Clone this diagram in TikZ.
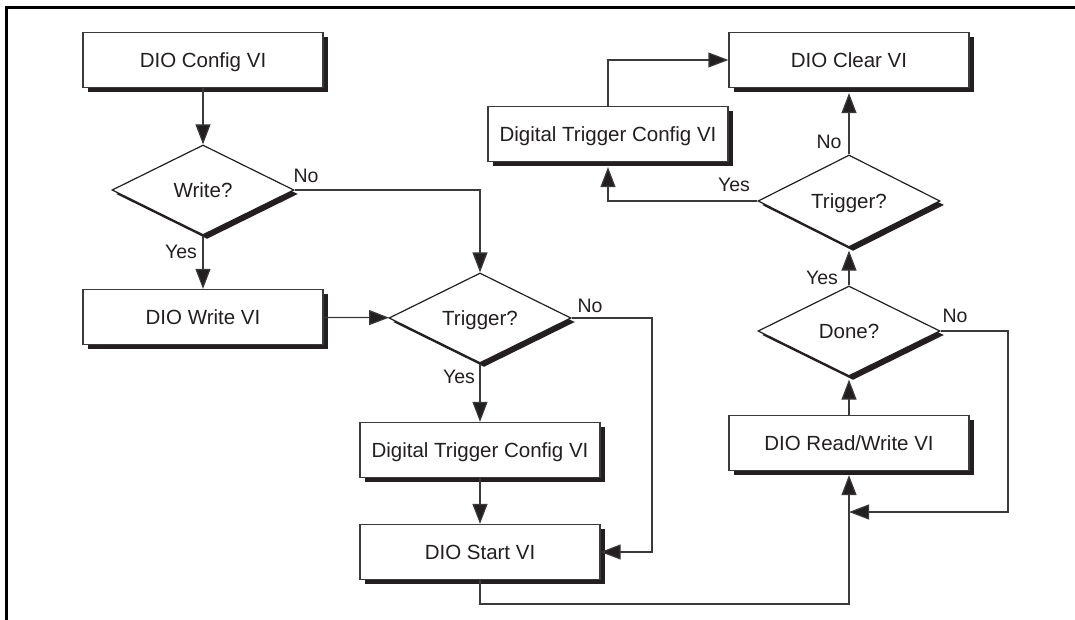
\documentclass[tikz,border=0pt]{standalone}
\usepackage{fontspec}
\setmainfont{Liberation Sans}
\usetikzlibrary{arrows.meta,shapes.geometric,shadows}
\definecolor{ink}{HTML}{231F20}
\definecolor{linec}{HTML}{3A3A3A}
\begin{document}
\begin{tikzpicture}[x=1pt,y=-1pt,
  boxnode/.style={rectangle, draw=linec, line width=1.2pt, fill=white,
    minimum width=240pt, minimum height=55pt, inner sep=0pt,
    font=\fontsize{20.5}{24}\selectfont, text=ink, text height=14.7pt, text depth=0pt,
    general shadow={fill=ink, shadow xshift=4.5pt, shadow yshift=-4.5pt}},
  decision/.style={diamond, aspect=2, draw=ink, line width=1.2pt, fill=white,
    minimum width=182pt, minimum height=90pt, inner sep=0pt,
    font=\fontsize{20.5}{24}\selectfont, text=ink, text height=14.7pt, text depth=0pt,
    general shadow={fill=ink, shadow xshift=4pt, shadow yshift=-4pt}},
  lbl/.style={font=\fontsize{19.5}{22}\selectfont, text=ink, inner sep=0pt},
  conn/.style={draw=linec, line width=1.2pt},
  arr/.style={conn, -{Triangle[length=20pt,width=15pt,fill=ink]}}]
\useasboundingbox (0,0) rectangle (1075,620);
% frame
\draw[line width=2.6pt, black] (1075,7.7) -- (6.7,7.7) -- (6.7,620);

% nodes
\node[boxnode] (config) at (203,60) {DIO Config VI};
\node[decision] (write) at (203,190) {Write?};
\node[boxnode] (wvi) at (203,317) {DIO Write VI};
\node[decision] (trig1) at (480,318) {Trigger?};
\node[boxnode] (dtc1) at (480,450) {Digital Trigger Config VI};
\node[boxnode] (start) at (480,552) {DIO Start VI};
\node[boxnode] (rw) at (849,443) {DIO Read/Write VI};
\node[decision] (done) at (849,331) {Done?};
\node[decision, minimum height=92pt] (trig2) at (849,201) {Trigger?};
\node[boxnode] (clear) at (849,60) {DIO Clear VI};
\node[boxnode] (dtc2) at (608,134) {Digital Trigger Config VI};

% helper coordinates
\coordinate (n1) at (652,318);
\coordinate (b1) at (480,604);
\coordinate (n2) at (1008,331);
\coordinate (j1) at (849,512);

% connectors
\draw[arr] (config) -- (write);
\draw[arr] (write.east) -| (trig1.north);
\draw[arr] (write) -- (wvi);
\draw[arr] (wvi) -- (trig1);
\draw[arr] (trig1) -- (dtc1);
\draw[arr] (dtc1) -- (start);
\draw[arr] (trig1.east) -- (n1) |- (start.east);
\draw[arr, shorten >=4pt] (start.south) -- (b1) -| (rw.south);
\draw[arr] (done.east) -- (n2) |- (j1);
\draw[arr, shorten >=3pt] (rw) -- (done);
\draw[arr, shorten >=3pt] (done) -- (trig2);
\draw[arr, shorten >=5pt] (trig2) -- (clear);
\draw[arr, shorten >=5pt] (trig2.west) -| (dtc2.south);
\draw[arr] (dtc2.north) |- (clear.west);

% labels
\node[lbl] (l1) at (306,176) {No};
\node[lbl] (l2) at (181,252) {Yes};
\node[lbl] (l3) at (590,306) {No};
\node[lbl] (l4) at (459,377) {Yes};
\node[lbl] (l5) at (955,316) {No};
\node[lbl] (l6) at (822,278) {Yes};
\node[lbl] (l7) at (829,142) {No};
\node[lbl] (l8) at (734,185) {Yes};
\end{tikzpicture}
\end{document}
